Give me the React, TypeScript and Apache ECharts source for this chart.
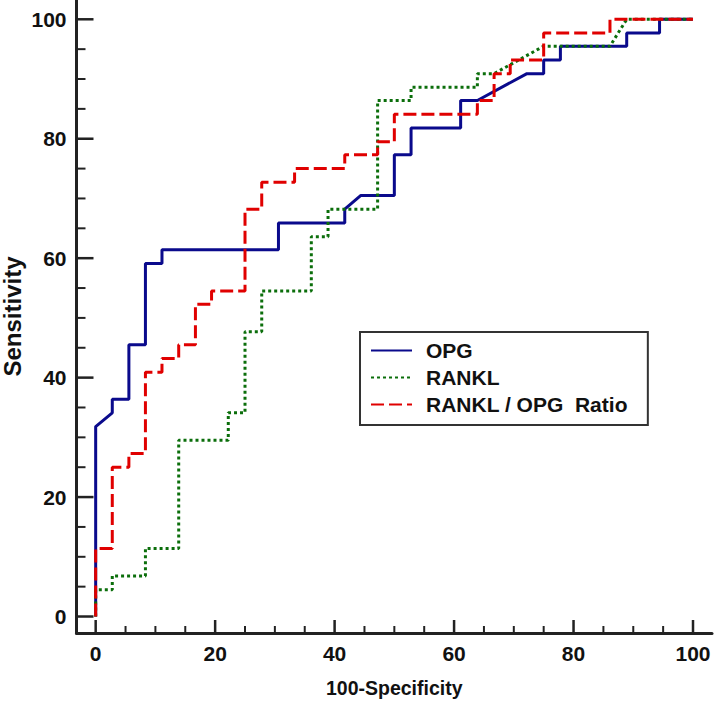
import React, { useEffect, useRef } from "react";
import * as echarts from "echarts";

// ROC curve vertices: [100-Specificity, Sensitivity]
const opgPoints: number[][] = [
  [0, 0], [0, 31.8], [2.78, 34.1], [2.78, 36.4], [5.56, 36.4], [5.56, 45.5], [8.33, 45.5],
  [8.33, 59.1], [11.1, 59.1], [11.1, 61.4], [30.6, 61.4], [30.6, 65.9], [41.7, 65.9],
  [41.7, 68.2], [44.4, 70.5], [50, 70.5], [50, 77.3], [52.8, 77.3], [52.8, 81.8],
  [61.1, 81.8], [61.1, 86.4], [63.9, 86.4], [72.2, 90.9], [75, 90.9], [75, 93.2],
  [77.8, 93.2], [77.8, 95.5], [88.9, 95.5], [88.9, 97.7], [94.4, 97.7], [94.4, 100], [100, 100],
];

const ranklPoints: number[][] = [
  [0, 0], [0, 4.5], [2.78, 4.5], [2.78, 6.8], [8.33, 6.8], [8.33, 11.4], [13.9, 11.4],
  [13.9, 29.5], [22.2, 29.5], [22.2, 34.1], [25, 34.1], [25, 47.7], [27.8, 47.7],
  [27.8, 54.5], [36.1, 54.5], [36.1, 63.6], [38.9, 63.6], [38.9, 68.2], [47.2, 68.2],
  [47.2, 86.4], [52.8, 86.4], [52.8, 88.6], [63.9, 88.6], [63.9, 90.9], [66.7, 90.9],
  [75, 95.5], [86.1, 95.5], [88.9, 100], [100, 100],
];

const ratioPoints: number[][] = [
  [0, 0], [0, 11.4], [2.78, 11.4], [2.78, 25], [5.56, 25], [5.56, 27.3], [8.33, 27.3],
  [8.33, 40.9], [11.1, 40.9], [11.1, 43.2], [13.9, 43.2], [13.9, 45.5], [16.7, 45.5],
  [16.7, 52.3], [19.4, 52.3], [19.4, 54.5], [25, 54.5], [25, 68.2], [27.8, 68.2],
  [27.8, 72.7], [33.3, 72.7], [33.3, 75], [41.7, 75], [41.7, 77.3], [47.2, 77.3],
  [47.2, 79.5], [50, 79.5], [50, 84.1], [63.9, 84.1], [63.9, 86.4], [66.7, 86.4],
  [66.7, 90.9], [69.4, 90.9], [69.4, 93.2], [75, 93.2], [75, 97.7], [86.1, 97.7],
  [86.1, 100], [100, 100],
];

const seriesNames = ["OPG", "RANKL", "RANKL / OPG  Ratio"];

const majorTicks = [0, 20, 40, 60, 80, 100];
const minorTicks = [5, 10, 15, 25, 30, 35, 45, 50, 55, 65, 70, 75, 85, 90, 95];

const X_MIN = -3.21;
const X_MAX = 103.18;
const Y_MIN = -2.76;
const Y_MAX = 103.23;

const GRID_LEFT = 76.5;
const GRID_RIGHT = 2;
const GRID_TOP = 0;
const GRID_BOTTOM = 68;
const WIDTH = 714;
const HEIGHT = 701;

const SANS = "'Liberation Sans', Arial, sans-serif";
const AXIS_COLOR = "#222";

// data units per pixel, from the axis extents and the grid size
const X_PER_PX = (X_MAX - X_MIN) / (WIDTH - GRID_LEFT - GRID_RIGHT);
const Y_PER_PX = (Y_MAX - Y_MIN) / (HEIGHT - GRID_TOP - GRID_BOTTOM);

// One short inward segment per tick value, drawn as its own line series
function tickSeries(values: number[], dim: "x" | "y", lenPx: number, width: number) {
  return values.map((v) => ({
    type: "line",
    silent: true,
    symbol: "none",
    clip: false,
    z: 5,
    data:
      dim === "x"
        ? [[v, Y_MIN], [v, Y_MIN + lenPx * Y_PER_PX]]
        : [[X_MIN, v], [X_MIN + lenPx * X_PER_PX, v]],
    lineStyle: { color: AXIS_COLOR, width, type: "solid" },
    itemStyle: { color: AXIS_COLOR },
  }));
}

export default function App() {
  const ref = useRef<HTMLDivElement>(null);

  useEffect(() => {
    if (!ref.current) return;
    const chart = echarts.init(ref.current, undefined, { renderer: "svg" });
    const labelStyle = {
      fontFamily: SANS,
      fontWeight: "bold" as const,
      fontSize: 21,
      color: "#111",
    };
    chart.setOption({
      animation: false,
      backgroundColor: "#fff",
      grid: {
        left: GRID_LEFT,
        right: GRID_RIGHT,
        top: GRID_TOP,
        bottom: GRID_BOTTOM,
        containLabel: false,
        outerBoundsMode: "none",
      },
      legend: {
        orient: "vertical",
        left: 360,
        top: 332,
        data: seriesNames,
        backgroundColor: "#fff",
        borderColor: "#333",
        borderWidth: 2,
        borderRadius: 0,
        padding: [8, 20, 10, 10],
        itemWidth: 41,
        itemHeight: 14,
        itemGap: 6,
        selectedMode: false,
        itemStyle: { opacity: 0 },
        textStyle: {
          fontFamily: SANS,
          fontWeight: "bold",
          fontSize: 21,
          lineHeight: 20,
          color: "#111",
          padding: [0, 0, 0, 9],
        },
      },
      xAxis: {
        type: "value",
        min: X_MIN,
        max: X_MAX,
        position: "bottom",
        name: "100-Specificity",
        nameLocation: "middle",
        nameGap: 45,
        nameMoveOverlap: false,
        nameTextStyle: { ...labelStyle, fontSize: 19.5 },
        axisLine: { show: true, onZero: false, lineStyle: { color: AXIS_COLOR, width: 3 } },
        axisTick: { show: false },
        minorTick: { show: false },
        axisLabel: { show: true, customValues: majorTicks, margin: 10, ...labelStyle },
        splitLine: { show: false },
      },
      yAxis: {
        type: "value",
        min: Y_MIN,
        max: Y_MAX,
        position: "left",
        name: "Sensitivity",
        nameLocation: "middle",
        nameGap: 52,
        nameMoveOverlap: false,
        nameTextStyle: { fontFamily: SANS, fontWeight: "bold", fontSize: 24, color: "#111" },
        axisLine: { show: true, onZero: false, lineStyle: { color: AXIS_COLOR, width: 3 } },
        axisTick: { show: false },
        minorTick: { show: false },
        axisLabel: { show: true, customValues: majorTicks, margin: 10, ...labelStyle },
        splitLine: { show: false },
      },
      series: [
        {
          name: seriesNames[0],
          type: "line",
          data: opgPoints,
          symbol: "none",
          lineStyle: { color: "#0a0a8c", width: 3, type: "solid" },
          itemStyle: { color: "#0a0a8c" },
          z: 2,
        },
        {
          name: seriesNames[1],
          type: "line",
          data: ranklPoints,
          symbol: "none",
          lineStyle: { color: "#0b6e0b", width: 3, type: [3, 3] },
          itemStyle: { color: "#0b6e0b" },
          z: 3,
        },
        {
          name: seriesNames[2],
          type: "line",
          data: ratioPoints,
          symbol: "none",
          lineStyle: { color: "#e00000", width: 3, type: [13, 5] },
          itemStyle: { color: "#e00000" },
          z: 4,
        },
        ...tickSeries(majorTicks, "x", 13, 2.5),
        ...tickSeries(minorTicks, "x", 7, 2),
        ...tickSeries(majorTicks, "y", 17, 2.5),
        ...tickSeries(minorTicks, "y", 9, 2),
      ],
    });
    return () => chart.dispose();
  }, []);

  return <div ref={ref} style={{ width: WIDTH, height: HEIGHT, position: "absolute", left: 0, top: 0 }} />;
}
